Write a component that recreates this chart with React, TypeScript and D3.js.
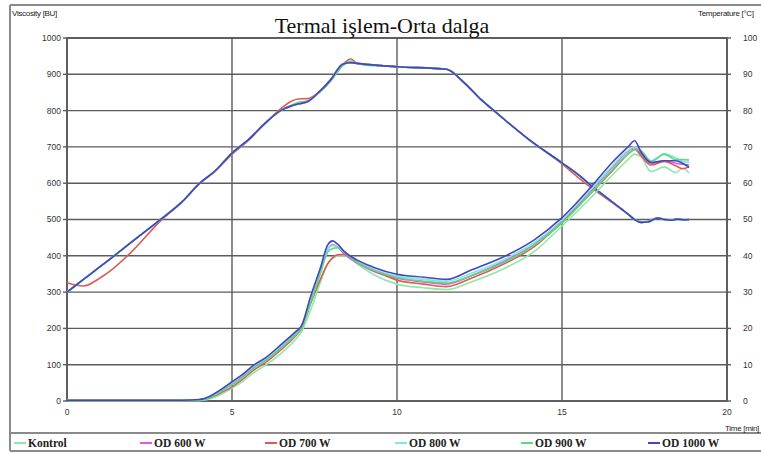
import React from "react";
import * as d3 from "d3";

// Viscosity sampling times (min)
const viscTime = [0, 1, 2, 3, 3.5, 4, 4.3, 4.6, 5, 5.3, 5.66, 6, 6.47, 6.93, 7.1, 7.38, 7.69, 7.9, 8.05, 8.2, 8.4, 8.8, 9.3, 10, 10.8, 11.5, 12.25, 13.25, 14.16, 15, 15.9, 16.5, 17.0, 17.2, 17.4, 17.7, 18.1, 18.45, 18.65, 18.85];

// Viscosity [BU] per sample
const viscKontrol = [1, 1, 1, 1, 1, 1, 5, 15, 35, 52, 78, 98, 130, 170, 190, 250, 330, 378, 393, 399, 400, 377, 348, 322, 312, 307, 328, 365, 412, 482, 562, 620, 665, 680, 672, 632, 645, 629, 641, 628];
const visc600 = [2, 2, 2, 2, 2, 3, 10, 25, 47, 66, 92, 112, 148, 186, 202, 275, 360, 418, 430, 424, 405, 380, 357, 338, 328, 322, 345, 385, 432, 497, 582, 642, 688, 700, 680, 655, 662, 655, 652, 650];
const visc700 = [1, 1, 1, 1, 1, 3, 8, 20, 39, 58, 85, 105, 140, 180, 199, 268, 338, 378, 395, 403, 404, 385, 360, 333, 322, 315, 338, 378, 425, 494, 575, 632, 680, 694, 675, 650, 660, 648, 640, 645];
const visc800 = [2, 2, 2, 2, 2, 3, 11, 27, 50, 70, 96, 116, 150, 188, 204, 280, 362, 418, 428, 424, 410, 386, 362, 344, 335, 330, 352, 390, 436, 498, 585, 645, 690, 700, 690, 662, 680, 670, 660, 658];
const visc900 = [1, 1, 1, 1, 1, 2, 8, 22, 45, 63, 90, 110, 145, 183, 200, 270, 355, 410, 420, 422, 410, 382, 360, 340, 330, 325, 345, 382, 430, 490, 575, 635, 680, 692, 688, 660, 680, 665, 665, 664];
const visc1000 = [2, 2, 2, 2, 2, 4, 12, 28, 53, 72, 99, 118, 154, 191, 206, 287, 370, 430, 441, 432, 412, 388, 368, 349, 341, 335, 361, 398, 444, 505, 592, 655, 700, 717, 685, 657, 662, 662, 655, 644];

// Temperature sampling times (min)
const tempTime = [0, 0.5, 1, 1.4, 2, 2.82, 3.5, 4, 4.5, 5, 5.5, 6, 6.47, 6.8, 7.0, 7.3, 7.6, 8.0, 8.35, 8.6, 8.8, 9, 10, 11.5, 12, 12.55, 13, 14, 15, 15.5, 16, 16.5, 17, 17.2, 17.4, 17.6, 17.9, 18.1, 18.3, 18.5, 18.7, 18.85];

// Temperature [°C] per sample
const tempCommon = [30, 33.5, 37, 39.8, 44.1, 49.9, 55, 59.8, 63.5, 68.3, 72, 76.5, 80, 81.3, 81.8, 82.5, 84.8, 88.6, 92.8, 93.2, 93.0, 92.8, 92.1, 91.4, 88, 83, 79.5, 72, 65.6, 62.3, 58.5, 55, 51.5, 50, 49.2, 49.3, 50.4, 50, 49.8, 50.1, 49.9, 50];
const temp700 = [32.6, 31.7, 33.9, 36.5, 41.5, 49.5, 55, 59.8, 63.3, 68, 71.8, 76.5, 80.5, 82.6, 83.2, 83.3, 84.8, 88.3, 92.6, 94.2, 93.0, 92.8, 92.1, 91.4, 88, 83, 79.5, 72, 65.3, 61.5, 58, 54.8, 51.5, 50, 49.2, 49.3, 50.4, 50, 49.8, 50.1, 49.9, 50];
const temp900 = [30, 33.5, 37, 39.8, 44.1, 49.9, 55, 59.8, 63.5, 68.3, 72, 76.5, 80, 81.5, 82.2, 82.7, 84.6, 88.3, 92.3, 93.6, 93.0, 92.6, 92.1, 91.4, 88, 83, 79.5, 72, 65.6, 62.3, 58.5, 55, 51.5, 50, 49.3, 49.5, 50.5, 50.1, 49.9, 50.2, 50, 50];

const seriesNames = ["Kontrol", "OD 600 W", "OD 700 W", "OD 800 W", "OD 900 W", "OD 1000 W"];
const seriesColors = ["#8fe8aa", "#e058e0", "#e05a5a", "#7ee6e6", "#5fd67f", "#4444c4"];
const seriesVisc = [viscKontrol, visc600, visc700, visc800, visc900, visc1000];
const seriesTemp = [tempCommon, tempCommon, temp700, tempCommon, temp900, tempCommon];

const timeTicks = [0, 5, 10, 15, 20];
const viscTicks = [0, 100, 200, 300, 400, 500, 600, 700, 800, 900, 1000];
const tempTicks = [0, 10, 20, 30, 40, 50, 60, 70, 80, 90, 100];

const W = 761;
const H = 454;
const plot = { left: 67, right: 727, top: 38, bottom: 401 };

export default function App() {
  const x = d3.scaleLinear().domain([0, 20]).range([plot.left, plot.right]);
  const yV = d3.scaleLinear().domain([0, 1000]).range([plot.bottom, plot.top]);
  const yT = d3.scaleLinear().domain([0, 100]).range([plot.bottom, plot.top]);

  const lineV = d3
    .line<[number, number]>()
    .x((d) => x(d[0]))
    .y((d) => yV(d[1]))
    .curve(d3.curveMonotoneX);
  const lineT = d3
    .line<[number, number]>()
    .x((d) => x(d[0]))
    .y((d) => yT(d[1]))
    .curve(d3.curveMonotoneX);

  const gridColor = "#5c5c5c";
  const sans = "Liberation Sans, Arial, sans-serif";
  const serif = "Liberation Serif, Times New Roman, serif";
  const legendX = [14, 140, 265, 395, 521, 648];

  return (
    <div style={{ position: "fixed", left: 0, top: 0 }}>
      <svg width={W} height={H} style={{ display: "block", background: "#fff" }}>
        {/* outer frame */}
        <line x1={10} x2={W} y1={5} y2={5} stroke="#8a8a8a" strokeWidth={2} />
        <line x1={10} x2={10} y1={5} y2={451} stroke="#8a8a8a" strokeWidth={2} />
        <line x1={10} x2={W} y1={433} y2={433} stroke="#8a8a8a" strokeWidth={2} />
        <line x1={10} x2={W} y1={451} y2={451} stroke="#8a8a8a" strokeWidth={2} />

        {/* grid */}
        {viscTicks.map((v) => (
          <line key={"h" + v} x1={plot.left} x2={plot.right} y1={yV(v)} y2={yV(v)} stroke={gridColor} strokeWidth={1.4} />
        ))}
        {timeTicks.map((t) => (
          <line key={"v" + t} x1={x(t)} x2={x(t)} y1={plot.top} y2={plot.bottom} stroke={gridColor} strokeWidth={1.4} />
        ))}
        <rect x={plot.left} y={plot.top} width={plot.right - plot.left} height={plot.bottom - plot.top} fill="none" stroke="#555" strokeWidth={1.6} />

        {/* left axis */}
        {viscTicks.map((v) => (
          <g key={"lt" + v}>
            <line x1={plot.left - 4} x2={plot.left} y1={yV(v)} y2={yV(v)} stroke={gridColor} strokeWidth={1.4} />
            <text x={plot.left - 6} y={yV(v)} dy="0.35em" textAnchor="end" fontFamily={sans} fontSize={8.5} fill="#333">{v}</text>
          </g>
        ))}
        {/* right axis */}
        {tempTicks.map((v) => (
          <g key={"rt" + v}>
            <line x1={plot.right} x2={plot.right + 4} y1={yT(v)} y2={yT(v)} stroke={gridColor} strokeWidth={1.4} />
            <text x={743} y={yT(v)} dy="0.35em" textAnchor="start" fontFamily={sans} fontSize={8.5} fill="#333">{v}</text>
          </g>
        ))}
        {/* bottom axis */}
        {timeTicks.map((t) => (
          <text key={"bt" + t} x={x(t)} y={415} textAnchor="middle" fontFamily={sans} fontSize={8.5} fill="#333">{t}</text>
        ))}

        <text x={12} y={16} fontFamily={sans} fontSize={8} fill="#222" letterSpacing={-0.3}>Viscosity [BU]</text>
        <text x={698} y={16} fontFamily={sans} fontSize={8} fill="#222" letterSpacing={-0.3}>Temperature [°C]</text>
        <text x={725} y={431} fontFamily={sans} fontSize={8} fill="#222" letterSpacing={-0.3}>Time [min]</text>

        {/* title */}
        <text x={382} y={33} textAnchor="middle" fontFamily={serif} fontSize={22} fill="#111">Termal işlem-Orta dalga</text>

        {/* temperature curves */}
        {seriesTemp.map((vals, i) => (
          <path
            key={"t" + i}
            d={lineT(tempTime.map((t, j) => [t, vals[j]] as [number, number])) || ""}
            fill="none"
            stroke={seriesColors[i]}
            strokeWidth={1.6}
          />
        ))}
        {/* viscosity curves */}
        {seriesVisc.map((vals, i) => (
          <path
            key={"v" + i}
            d={lineV(viscTime.map((t, j) => [t, vals[j]] as [number, number])) || ""}
            fill="none"
            stroke={seriesColors[i]}
            strokeWidth={1.6}
          />
        ))}

        {/* legend */}
        {seriesNames.map((name, i) => (
          <g key={"lg" + i}>
            <line x1={legendX[i]} x2={legendX[i] + 12} y1={443} y2={443} stroke={seriesColors[i]} strokeWidth={2} />
            <text x={legendX[i] + 14} y={447} fontFamily={serif} fontSize={11.5} fontWeight="bold" fill="#222">{name}</text>
          </g>
        ))}
      </svg>
    </div>
  );
}
